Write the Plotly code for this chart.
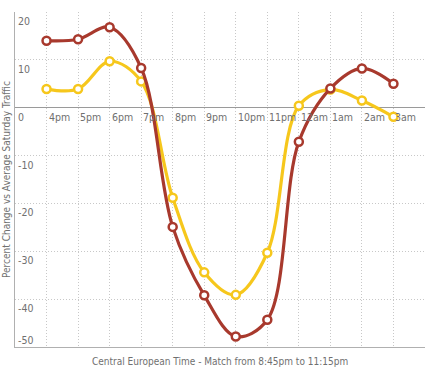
import plotly.graph_objects as go

x_labels = ["4pm", "5pm", "6pm", "7pm", "8pm", "9pm", "10pm", "11pm", "12am", "1am", "2am", "3am"]
red_values = [14.0, 14.3, 16.8, 8.3, -24.9, -39.2, -47.8, -44.3, -7.1, 4.0, 8.2, 5.0]
yellow_values = [3.9, 3.9, 9.7, 5.5, -18.8, -34.4, -39.1, -30.3, 0.4, 3.8, 1.5, -1.9]
y_ticks = [20, 10, 0, -10, -20, -30, -40, -50]

RED = "#a8392d"
YELLOW = "#f6c71c"
FONT = "DejaVu Sans Condensed, Roboto, sans-serif"
TXT = "#707070"
FS = 10.5

xs = list(range(1, len(x_labels) + 1))

fig = go.Figure()
for vals, col in [(yellow_values, YELLOW), (red_values, RED)]:
    fig.add_trace(go.Scatter(
        x=xs, y=vals, mode="lines+markers",
        line=dict(color=col, width=3.2, shape="spline", smoothing=1.0),
        marker=dict(size=8, color="white", line=dict(color=col, width=2.5)),
        hoverinfo="skip", showlegend=False,
    ))

annotations = []
for xv, lab in zip(xs, x_labels):
    annotations.append(dict(x=xv, y=0, xref="x", yref="y", text=lab, showarrow=False,
                            xanchor="left", yanchor="top", xshift=0, yshift=-1,
                            font=dict(family=FONT, size=FS, color=TXT)))
for t in y_ticks:
    if t == y_ticks[-1]:
        annotations.append(dict(x=0, y=t, xref="x", yref="y", text=str(t), showarrow=False,
                                xanchor="left", yanchor="bottom", xshift=1, yshift=-1,
                                font=dict(family=FONT, size=FS, color=TXT)))
    else:
        annotations.append(dict(x=0, y=t, xref="x", yref="y", text=str(t), showarrow=False,
                                xanchor="left", yanchor="top", xshift=1, yshift=-1,
                                font=dict(family=FONT, size=FS, color=TXT)))
annotations.append(dict(x=0.5, y=0, xref="paper", yref="paper",
                        text="Central European Time - Match from 8:45pm to 11:15pm",
                        showarrow=False, xanchor="center", yanchor="top", yshift=-7,
                        font=dict(family=FONT, size=10, color=TXT)))
annotations.append(dict(x=0, y=0.5, xref="paper", yref="paper",
                        text="Percent Change vs Average Saturday Traffic", textangle=-90,
                        showarrow=False, xanchor="right", yanchor="middle", xshift=-1,
                        font=dict(family=FONT, size=10, color=TXT)))

fig.update_layout(
    width=440, height=374,
    margin=dict(l=15, r=15, t=12, b=27),
    paper_bgcolor="white", plot_bgcolor="white",
    annotations=annotations,
    xaxis=dict(range=[0, 13], tickvals=list(range(0, 14)), showticklabels=False,
               showgrid=True, gridcolor="#c8c8c8", griddash="1px,2px", gridwidth=1,
               zeroline=False, showline=True, linecolor="#b0b0b0", linewidth=1,
               ticks="", fixedrange=True),
    yaxis=dict(range=[-50, 20], tickvals=y_ticks, showticklabels=False,
               showgrid=True, gridcolor="#c8c8c8", griddash="1px,2px", gridwidth=1,
               zeroline=True, zerolinecolor="#9a9a9a", zerolinewidth=1,
               showline=True, linecolor="#b0b0b0", linewidth=1,
               ticks="", fixedrange=True),
)

fig.write_html("out.html", config={"displayModeBar": False},
               post_script="document.body.style.margin='0px';")
